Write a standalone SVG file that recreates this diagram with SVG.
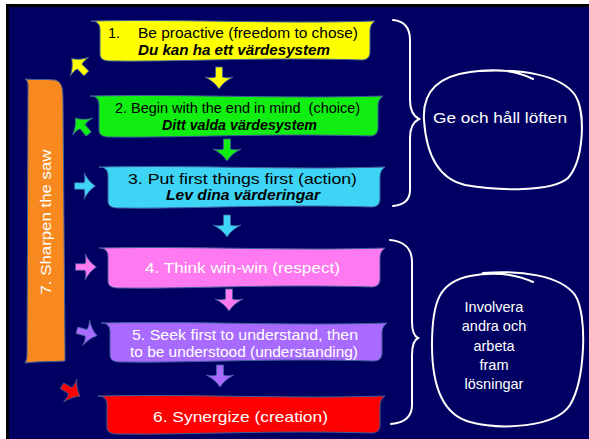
<svg xmlns="http://www.w3.org/2000/svg" width="589" height="439" viewBox="0 0 589 439">
<defs>
<style>
.box{stroke:#3f5f9a;stroke-width:1}
.t{font-family:"Liberation Sans","DejaVu Sans",sans-serif;font-size:14.5px}
.dark{fill:#000}
.light{fill:#fff}
.bi{font-weight:bold;font-style:italic}
.wire{fill:none;stroke:#fff;stroke-width:2;stroke-linecap:round}
.note{font-family:"Liberation Sans","DejaVu Sans",sans-serif;font-size:14.5px;fill:#fff;text-anchor:middle}
</style>
<path id="arr" d="M -3.5,-11 L 3.5,-11 L 3.5,-1 C 6,0 10,0 14,-1 C 8,2 3,6 0,11 C -3,6 -8,2 -14,-1 C -10,0 -6,0 -3.5,-1 Z" stroke="#3f5f9a" stroke-width="0.8"/>
</defs>
<rect x="0" y="0" width="589" height="439" fill="#fff"/>
<rect x="6" y="4" width="583" height="435" fill="#000"/>
<rect x="9" y="7" width="580" height="432" fill="#000062"/>

<g id="connectors">
<use href="#arr" fill="#ffff00" transform="translate(219,78)"/>
<use href="#arr" fill="#11ee11" transform="translate(227,150)"/>
<use href="#arr" fill="#3dd4f5" transform="translate(227,226)"/>
<use href="#arr" fill="#ff7af0" transform="translate(229,300)"/>
<use href="#arr" fill="#a96bff" transform="translate(220,376)"/>
<use href="#arr" fill="#ffff00" transform="translate(79,66) rotate(135) scale(0.95)"/>
<use href="#arr" fill="#11ee11" transform="translate(82,126) rotate(140) scale(0.95)"/>
<use href="#arr" fill="#3dd4f5" transform="translate(85,186) rotate(-90) scale(0.95)"/>
<use href="#arr" fill="#ff7af0" transform="translate(86,267) rotate(-90) scale(0.95)"/>
<use href="#arr" fill="#a96bff" transform="translate(87,333) rotate(-75) scale(0.95)"/>
<use href="#arr" fill="#ff0000" transform="translate(71,391) rotate(-60) scale(0.95)"/>
<path class="wire" d="M 393,20 C 404,21 410,27 410,40 L 410,100 C 410,110 413,116 419,119 C 413,122 410,128 410,138 L 410,190 C 410,200 404,205 393,206"/>
<path class="wire" d="M 390,240 C 402,241 412,247 412,262 L 412,322 C 412,332 414,336 418,338 C 414,340 412,345 412,355 L 412,405 C 412,418 403,423 391,424"/>
</g>

<g id="n7">
<path class="box" fill="#f7891f" d="M 25,79 C 27,80 28,82 28,86 L 27,355 C 27,359 26,361 25,363 C 40,361 52,362 65,361 L 65,350 L 63,100 C 63,88 62,82 55,80 C 45,79 35,80 25,79 Z"/>
<text class="t light" font-size="16" text-anchor="middle" textLength="145" lengthAdjust="spacingAndGlyphs" transform="translate(51,222) rotate(-90)">7. Sharpen the saw</text>
</g>

<g id="n1">
<path class="box" fill="#ffff00" d="M 91,21 C 97,21 100,24 100,30 L 100,54 C 100,59 104,61 110,61 C 181,62 262,57 362,60 C 367,60 370,57 370,52 L 370,31 C 370,26 372,23 375,21 C 275,24 194,19 91,21 Z"/>
<text class="t dark" x="108" y="38">1.</text>
<text class="t dark" x="138" y="38" textLength="220" lengthAdjust="spacingAndGlyphs">Be proactive (freedom to chose)</text>
<text class="t dark bi" x="138" y="55" textLength="192" lengthAdjust="spacingAndGlyphs">Du kan ha ett värdesystem</text>
</g>

<g id="n2">
<path class="box" fill="#11ee11" d="M 90,96 C 96,96 99,99 99,105 L 99,130 C 99,135 103,137 109,137 C 183,138 266,133 370,136 C 375,136 378,133 378,128 L 378,106 C 378,101 380,98 383,96 C 280,99 197,94 90,96 Z"/>
<text class="t dark" x="115" y="113" textLength="245" lengthAdjust="spacingAndGlyphs" xml:space="preserve">2. Begin with the end in mind  (choice)</text>
<text class="t dark bi" x="162" y="130" textLength="155" lengthAdjust="spacingAndGlyphs">Ditt valda värdesystem</text>
</g>

<g id="n3">
<path class="box" fill="#3dd4f5" d="M 99,167 C 105,167 108,170 108,176 L 108,201 C 108,206 112,208 118,208 C 190,209 271,204 372,207 C 377,207 380,204 380,199 L 380,177 C 380,172 382,169 385,167 C 285,170 203,165 99,167 Z"/>
<text class="t dark" x="128" y="184" textLength="229" lengthAdjust="spacingAndGlyphs">3. Put first things first (action)</text>
<text class="t dark bi" x="166" y="200" font-size="13.5" textLength="154" lengthAdjust="spacingAndGlyphs">Lev dina värderingar</text>
</g>

<g id="n4">
<path class="box" fill="#ff7af0" d="M 99,248 C 105,248 108,251 108,257 L 108,281 C 108,286 112,288 118,288 C 190,289 271,284 372,287 C 377,287 380,284 380,279 L 380,258 C 380,253 382,250 385,248 C 285,251 203,246 99,248 Z"/>
<text class="t light" x="145" y="273" textLength="195" lengthAdjust="spacingAndGlyphs">4. Think win-win (respect)</text>
</g>

<g id="n5">
<path class="box" fill="#a96bff" d="M 101,323 C 107,323 110,326 110,332 L 110,355 C 110,360 114,362 120,362 C 192,363 273,358 374,361 C 379,361 382,358 382,353 L 382,333 C 382,328 384,325 387,323 C 287,326 205,321 101,323 Z"/>
<text class="t light" x="132" y="340" textLength="226" lengthAdjust="spacingAndGlyphs">5. Seek first to understand, then</text>
<text class="t light" x="130" y="357" textLength="228" lengthAdjust="spacingAndGlyphs">to be understood (understanding)</text>
</g>

<g id="n6">
<path class="box" fill="#ff0000" d="M 98,396 C 104,396 107,399 107,405 L 107,427 C 107,432 111,434 117,434 C 189,435 270,430 372,433 C 377,433 380,430 380,425 L 380,406 C 380,401 382,398 385,396 C 285,399 203,394 98,396 Z"/>
<text class="t light" x="153" y="422" textLength="175" lengthAdjust="spacingAndGlyphs">6. Synergize (creation)</text>
</g>

<g id="g1">
<path class="wire" d="M 480,71 C 520,69 560,74 575,95 C 586,112 584,160 568,178 C 552,192 500,191 465,185 C 435,178 426,150 424,120 C 422,90 440,76 470,72 C 495,68 515,70 533,79"/>
<text class="note" x="500" y="123" textLength="134" lengthAdjust="spacingAndGlyphs">Ge och håll löften</text>
</g>

<g id="g2">
<path class="wire" d="M 483,273 C 520,270 560,275 575,295 C 588,315 585,380 570,405 C 555,428 500,430 470,422 C 440,414 432,380 432,345 C 432,300 440,282 470,276 C 495,271 515,274 533,282"/>
<text class="note" x="494" y="312">Involvera</text>
<text class="note" x="494" y="331">andra och</text>
<text class="note" x="494" y="351">arbeta</text>
<text class="note" x="494" y="370">fram</text>
<text class="note" x="494" y="389">lösningar</text>
</g>
</svg>
